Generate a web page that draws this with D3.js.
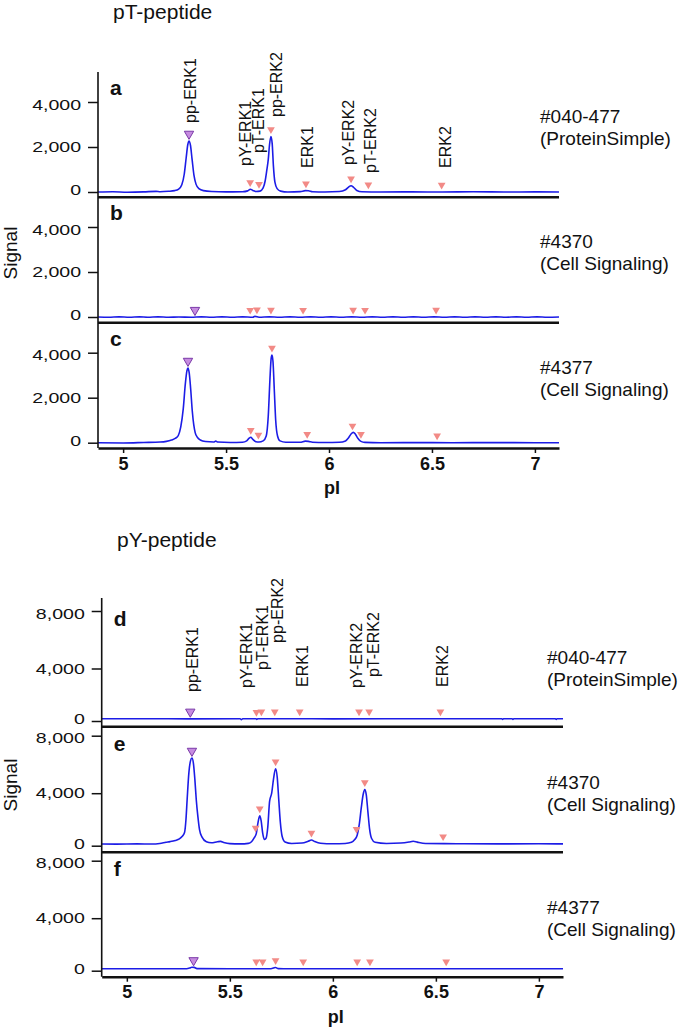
<!DOCTYPE html>
<html>
<head>
<meta charset="utf-8">
<script src="https://cdn.jsdelivr.net/npm/d3@7"></script>
<style>
body { margin: 0; background: #fff; }
text { font-family: "Liberation Sans", Arial, sans-serif; fill: #111; }
</style>
</head>
<body>
<div id="chart"></div>
<script>
//****data****
const peakNames = ["pp-ERK1", "pY-ERK1", "pT-ERK1", "pp-ERK2", "ERK1", "pY-ERK2", "pT-ERK2", "ERK2"];
const groupTitles = ["pT-peptide", "pY-peptide"];
const panelLetters = [["a", "b", "c"], ["d", "e", "f"]];
const antibodyLines = [["#040-477", "(ProteinSimple)"], ["#4370", "(Cell Signaling)"], ["#4377", "(Cell Signaling)"]];
const xTicks = [5, 5.5, 6, 6.5, 7];
const pIDomain = [4.878, 7.117];
const yTicksT = [0, 2000, 4000];
const yTicksY = [0, 4000, 8000];

// where the peak names sit: pI and the signal level of the text foot (first panel of each group)
const labelPiT = [5.325, 5.592, 5.655, 5.743, 5.893, 6.092, 6.199, 6.563];
const labelLiftT = [3067, 1156, 1733, 3333, 1067, 1200, 844, 1067];
const labelPiY = [5.319, 5.581, 5.659, 5.732, 5.854, 6.116, 6.199, 6.534];
const labelLiftY = [2210, 2510, 3890, 5780, 2590, 2510, 3350, 2590];

// marker pI (first one is pp-ERK1, drawn purple)
const markersA = [5.320, 5.617, 5.66, 5.718, 5.888, 6.107, 6.191, 6.547];
const markersB = [5.349, 5.617, 5.65, 5.718, 5.874, 6.117, 6.175, 6.52];
const markersC = [5.315, 5.62, 5.657, 5.723, 5.894, 6.114, 6.155, 6.525];
const markersD = [5.308, 5.629, 5.653, 5.718, 5.839, 6.127, 6.176, 6.522];
const markersE = [5.316, 5.625, 5.645, 5.722, 5.896, 6.115, 6.155, 6.535];
const markersF = [5.324, 5.628, 5.659, 5.722, 5.856, 6.118, 6.18, 6.55];

// traces [pI, signal]
const traceA = [[4.878,0],[4.95,10],[5.02,-10],[5.1,5],[5.16,30],[5.18,10],[5.22,30],[5.25,60],[5.27,130],[5.285,320],[5.297,800],[5.306,1500],[5.314,2100],[5.32,2270],[5.327,2080],[5.335,1450],[5.344,750],[5.354,350],[5.368,150],[5.39,60],[5.43,20],[5.5,5],[5.58,10],[5.605,50],[5.618,120],[5.63,70],[5.645,20],[5.665,40],[5.68,180],[5.69,500],[5.698,980],[5.705,1450],[5.711,2100],[5.718,2470],[5.724,2150],[5.73,1150],[5.737,450],[5.748,150],[5.765,40],[5.8,0],[5.86,15],[5.885,60],[5.9,55],[5.92,10],[5.98,0],[6.05,20],[6.08,100],[6.095,220],[6.107,280],[6.12,200],[6.135,70],[6.16,10],[6.25,0],[6.4,5],[6.55,0],[6.7,10],[6.85,0],[7.0,5],[7.117,0]];
const traceB = [[4.878,0],[4.93,-10],[4.98,5],[5.03,-10],[5.08,5],[5.12,-10],[5.17,5],[5.22,-10],[5.27,0],[5.33,-10],[5.38,5],[5.43,-10],[5.48,5],[5.53,-10],[5.58,5],[5.63,-10],[5.64,30],[5.66,-10],[5.71,5],[5.76,-10],[5.81,5],[5.86,-10],[5.91,5],[5.96,-10],[6.01,5],[6.06,-10],[6.11,5],[6.16,-10],[6.21,5],[6.26,-10],[6.31,5],[6.36,-10],[6.41,5],[6.46,-10],[6.51,5],[6.56,-10],[6.61,5],[6.66,-10],[6.71,5],[6.76,-10],[6.81,5],[6.86,-10],[6.91,5],[6.96,-10],[7.01,5],[7.06,-10],[7.117,0]];
const traceC = [[4.878,0],[5.0,-10],[5.1,10],[5.18,30],[5.21,60],[5.235,120],[5.255,200],[5.268,320],[5.28,700],[5.292,1500],[5.302,2600],[5.31,3200],[5.315,3320],[5.321,3100],[5.328,2400],[5.336,1400],[5.343,800],[5.35,450],[5.36,250],[5.375,120],[5.4,50],[5.44,30],[5.45,70],[5.46,30],[5.52,10],[5.58,20],[5.6,80],[5.612,200],[5.62,240],[5.63,150],[5.645,40],[5.66,30],[5.68,80],[5.695,300],[5.705,1200],[5.713,2800],[5.719,3750],[5.723,3900],[5.728,3600],[5.734,2400],[5.741,1000],[5.75,300],[5.762,80],[5.79,20],[5.86,20],[5.885,70],[5.9,60],[5.92,20],[5.98,10],[6.05,20],[6.08,80],[6.095,220],[6.108,400],[6.118,460],[6.128,380],[6.14,200],[6.155,60],[6.175,15],[6.25,0],[6.4,5],[6.6,0],[6.8,5],[7.0,0],[7.117,0]];
const traceD = [[4.876,170],[5.1,170],[5.3,165],[5.55,170],[5.556,100],[5.562,170],[5.627,170],[5.631,110],[5.635,170],[5.8,170],[6.0,165],[6.5,170],[6.82,170],[6.824,110],[6.828,170],[6.87,170],[6.874,110],[6.878,170],[7.08,170],[7.084,110],[7.088,170],[7.117,170]];
const traceE = [[4.876,130],[4.95,120],[5.05,140],[5.12,130],[5.16,170],[5.19,260],[5.21,310],[5.235,400],[5.255,520],[5.268,700],[5.28,1000],[5.287,2000],[5.293,3600],[5.301,5400],[5.309,6250],[5.316,6450],[5.323,6100],[5.33,5000],[5.337,3500],[5.345,2200],[5.353,1200],[5.365,650],[5.386,300],[5.41,220],[5.44,300],[5.455,330],[5.47,250],[5.5,160],[5.55,140],[5.59,180],[5.605,300],[5.618,600],[5.628,900],[5.636,1700],[5.645,2280],[5.652,1900],[5.659,1000],[5.667,480],[5.675,550],[5.684,1400],[5.693,3400],[5.703,4000],[5.712,5000],[5.722,5700],[5.73,5100],[5.737,3600],[5.745,1800],[5.754,700],[5.768,280],[5.8,170],[5.85,200],[5.88,340],[5.896,440],[5.912,320],[5.94,190],[6.0,150],[6.06,170],[6.09,260],[6.105,450],[6.118,800],[6.128,1600],[6.138,2900],[6.147,3900],[6.155,4250],[6.162,3900],[6.17,2600],[6.178,1300],[6.188,550],[6.205,260],[6.26,170],[6.33,200],[6.37,280],[6.39,340],[6.41,270],[6.45,170],[6.6,150],[6.8,140],[7.0,145],[7.117,140]];
const traceF = [[4.876,150],[5.1,150],[5.29,150],[5.305,200],[5.315,260],[5.327,250],[5.34,160],[5.5,150],[5.7,150],[5.712,200],[5.722,240],[5.735,160],[5.76,150],[6.2,150],[6.6,150],[7.117,150]];

//****layout****
const w = 685;
const h = 1029;
const traceColor = "#1c1ce6";
const markerColor = "#f28a86";
const groups = [
    {
        title: groupTitles[0], titleX: 113, titleY: 19,
        left: 98, right: 559, axisTop: 72, bottom: 448,
        zeros: [192, 317, 442.7], seps: [197.3, 322.7],
        yDomain: [0, 4000], yRange: [0, -90], yTicks: yTicksT,
        traces: [traceA, traceB, traceC], markers: [markersA, markersB, markersC],
        labelPi: labelPiT, labelLift: labelLiftT, letters: panelLetters[0],
        letterOff: -97, noteX: 540, noteOff: -69, signalY: 253
    },
    {
        title: groupTitles[1], titleX: 117, titleY: 547,
        left: 101.7, right: 563, axisTop: 598, bottom: 976.7,
        zeros: [721, 845.7, 970.7], seps: [726.7, 852.3],
        yDomain: [0, 4000, 8000], yRange: [0, -52.5, -110], yTicks: yTicksY,
        traces: [traceD, traceE, traceF], markers: [markersD, markersE, markersF],
        labelPi: labelPiY, labelLift: labelLiftY, letters: panelLetters[1],
        letterOff: -95, noteX: 547, noteOff: -57, signalY: 785
    }
];

const svg = d3.select("#chart")
    .append("svg")
    .attr("width", w)
    .attr("height", h);

function valueAt(trace, p) {
    const i = d3.bisector(d => d[0]).left(trace, p);
    if (i <= 0) return trace[0][1];
    if (i >= trace.length) return trace[trace.length - 1][1];
    const a = trace[i - 1], b = trace[i];
    return a[1] + (b[1] - a[1]) * (p - a[0]) / (b[0] - a[0]);
}

const tri = d3.symbol().type(d3.symbolTriangle).size(26);
const triBig = d3.symbol().type(d3.symbolTriangle).size(38);

groups.forEach((g, gi) => {
    const x = d3.scaleLinear().domain(pIDomain).range([g.left, g.right]);
    const topTick = g.yTicks[g.yTicks.length - 1];

    svg.append("text")
        .attr("x", g.titleX).attr("y", g.titleY)
        .attr("font-size", 21)
        .text(g.title);

    svg.append("text")
        .attr("transform", `translate(10,${g.signalY}) rotate(-90)`)
        .attr("text-anchor", "middle")
        .attr("dy", "0.35em")
        .attr("font-size", 19)
        .text("Signal");

    g.zeros.forEach((z, pi) => {
        const y = d3.scaleLinear().domain(g.yDomain).range(g.yRange.map(r => z + r));
        const top = pi === 0 ? g.axisTop - 40 : g.seps[pi - 1];
        const bot = pi < 2 ? g.seps[pi] : g.bottom;

        // clip
        const clipId = "clip-" + gi + "-" + pi;
        svg.append("clipPath").attr("id", clipId)
            .append("rect")
            .attr("x", g.left).attr("y", top)
            .attr("width", g.right - g.left).attr("height", bot - top);

        // y axis ticks (labels drawn wide, like the reference)
        const ax = svg.append("g")
            .attr("transform", `translate(${g.left},0)`)
            .call(d3.axisLeft(y).tickValues(g.yTicks).tickSize(10).tickPadding(2.5).tickFormat(d3.format(",")));
        ax.select(".domain").remove();
        ax.selectAll("line").attr("stroke", "#111").attr("stroke-width", 1.5);
        ax.selectAll("text")
            .attr("font-size", 14.5)
            .attr("dy", d => d === 0 ? "0.2em" : d === topTick ? "0.5em" : "0.32em")
            .attr("transform", "scale(1.35,1)")
            .attr("font-family", "Liberation Sans, Arial, sans-serif").attr("fill", "#111");

        // trace
        const line = d3.line()
            .x(d => x(d[0]))
            .y(d => y(d[1]))
            .curve(d3.curveMonotoneX);
        svg.append("path")
            .datum(g.traces[pi])
            .attr("clip-path", `url(#${clipId})`)
            .attr("d", line)
            .attr("fill", "none")
            .attr("stroke", traceColor)
            .attr("stroke-width", 1.6);

        // markers
        g.markers[pi].forEach((p, k) => {
            const my = y(valueAt(g.traces[pi], p)) - 7;
            svg.append("path")
                .attr("d", k === 0 ? triBig() : tri())
                .attr("transform", `translate(${x(p)},${my}) rotate(180)`)
                .attr("fill", k === 0 ? "#c68be0" : markerColor)
                .attr("stroke", k === 0 ? "#7a3aa8" : "none")
                .attr("stroke-width", 1);
        });

        // panel letter
        svg.append("text")
            .attr("x", g.left + 12).attr("y", z + g.letterOff)
            .attr("font-size", 21).attr("font-weight", "bold")
            .text(g.letters[pi]);

        // antibody note
        svg.append("text")
            .attr("x", g.noteX).attr("y", z + g.noteOff)
            .attr("font-size", 19)
            .text(antibodyLines[pi][0]);
        svg.append("text")
            .attr("x", g.noteX).attr("y", z + g.noteOff + 22)
            .attr("font-size", 19)
            .text(antibodyLines[pi][1]);

        // peak names above first panel
        if (pi === 0) {
            peakNames.forEach((name, k) => {
                svg.append("text")
                    .attr("transform", `translate(${x(g.labelPi[k])},${y(g.labelLift[k])}) rotate(-90)`)
                    .attr("dy", "0.35em")
                    .attr("font-size", 16)
                    .text(name);
            });
        }

        // separator
        if (pi < 2) {
            svg.append("line")
                .attr("x1", g.left).attr("x2", g.right)
                .attr("y1", g.seps[pi]).attr("y2", g.seps[pi])
                .attr("stroke", "#111").attr("stroke-width", 2.5);
        }
    });

    // y axis line across the group
    svg.append("line")
        .attr("x1", g.left).attr("x2", g.left)
        .attr("y1", g.axisTop).attr("y2", g.bottom)
        .attr("stroke", "#111").attr("stroke-width", 1.6);

    // x axis
    const xa = svg.append("g")
        .attr("transform", `translate(0,${g.bottom})`)
        .call(d3.axisBottom(x).tickValues(xTicks).tickSize(5).tickSizeOuter(0).tickPadding(4).tickFormat(d => d));
    xa.select(".domain").attr("stroke", "#111").attr("stroke-width", 2.5);
    xa.selectAll("line").attr("stroke", "#111").attr("stroke-width", 1.5);
    xa.selectAll("text").attr("font-size", 18).attr("font-weight", "bold")
        .attr("font-family", "Liberation Sans, Arial, sans-serif").attr("fill", "#111");

    svg.append("text")
        .attr("x", x(6) + 3).attr("y", g.bottom + 46)
        .attr("text-anchor", "middle")
        .attr("font-size", 18).attr("font-weight", "bold")
        .text("pI");
});
</script>
</body>
</html>
